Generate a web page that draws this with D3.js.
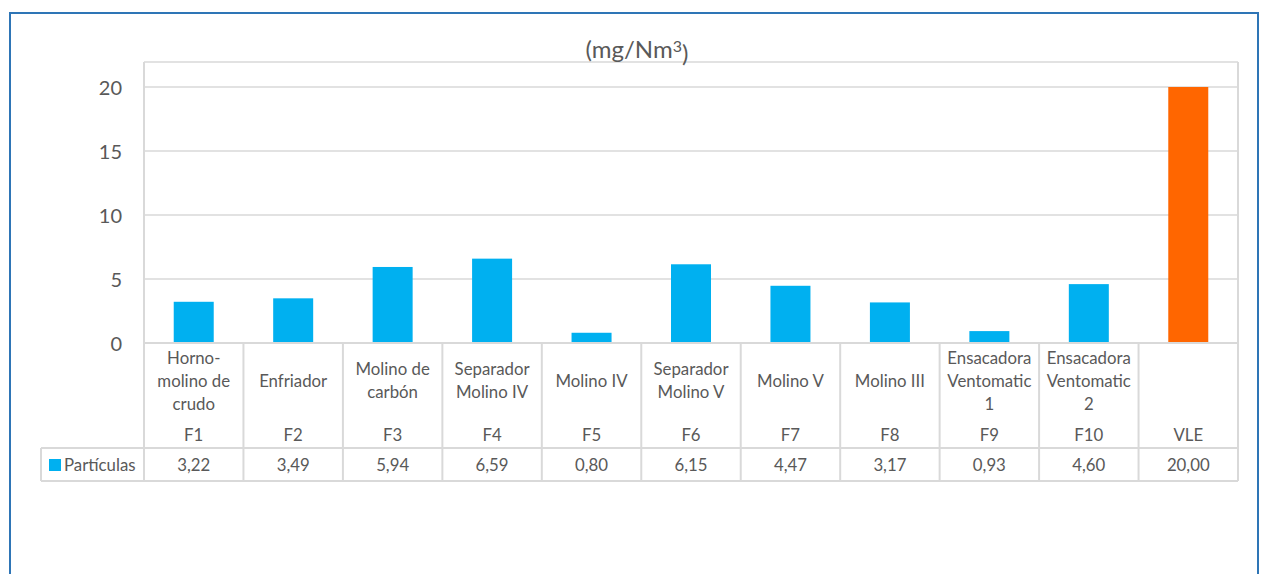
<!DOCTYPE html>
<html><head><meta charset="utf-8">
<script src="https://cdn.jsdelivr.net/npm/d3@7"></script>
<style>body{margin:0;background:#fff}svg{display:block}text{font-family:Lato,"Noto Sans",sans-serif;fill:#595959}</style>
</head><body><svg id="c" width="1261" height="574"></svg>
<script>
const codes = ["F1","F2","F3","F4","F5","F6","F7","F8","F9","F10","VLE"];
const names = [["Horno-","molino de","crudo"],["Enfriador"],["Molino de","carbón"],["Separador","Molino IV"],["Molino IV"],["Separador","Molino V"],["Molino V"],["Molino III"],["Ensacadora","Ventomatic","1"],["Ensacadora","Ventomatic","2"],[]];
const values = [3.22,3.49,5.94,6.59,0.80,6.15,4.47,3.17,0.93,4.60,20.00];
const yTicks = [0,5,10,15,20];
const seriesName = "Partículas";

const svg = d3.select("#c");
const L=144, R=1238, T=62, B=343, rowY=448, rowB=481, tblL=41;
const grid="#d9d9d9";
const blue="#00B0F0", orange="#FF6600";
const fs="16.8px";

svg.append("rect").attr("x",10).attr("y",13).attr("width",1248).attr("height",600)
  .attr("fill","none").attr("stroke","#2E75B6").attr("stroke-width",2);

const x = d3.scaleBand().domain(codes).range([L,R]).paddingInner(0).paddingOuter(0);
const y = d3.scaleLinear().domain([0,20]).range([B,87]);

svg.append("g").selectAll("line").data(yTicks).join("line")
  .attr("x1",L).attr("x2",R).attr("y1",d=>y(d)).attr("y2",d=>y(d))
  .attr("stroke",grid).attr("stroke-width",1.5);
svg.append("line").attr("x1",L).attr("x2",R).attr("y1",T).attr("y2",T).attr("stroke",grid).attr("stroke-width",1.5);

const ya = svg.append("g").attr("transform",`translate(${L-22},0)`)
  .call(d3.axisLeft(y).tickValues(yTicks).tickSize(0).tickPadding(0));
ya.select(".domain").remove();
ya.selectAll("text").style("font-size","20px").style("fill","#595959").style("font-family","Lato,sans-serif").attr("dy","0.35em");

const bw = 40;
svg.append("g").selectAll("rect").data(values).join("rect")
  .attr("x",(d,i)=>x(codes[i])+x.bandwidth()/2-bw/2)
  .attr("width",bw)
  .attr("y",d=>y(d)).attr("height",d=>y(0)-y(d))
  .attr("fill",(d,i)=>codes[i]==="VLE"?orange:blue);

const tl = svg.append("g").attr("stroke",grid).attr("stroke-width",2);
const bounds = codes.map(c=>x(c)).concat([R]);
bounds.forEach((bx,i)=>{
  tl.append("line").attr("x1",bx).attr("x2",bx).attr("y1",(i===0||i===codes.length)?T:B).attr("y2",rowB);
});
tl.append("line").attr("x1",tblL).attr("x2",R).attr("y1",rowY).attr("y2",rowY);
tl.append("line").attr("x1",tblL).attr("x2",R).attr("y1",rowB).attr("y2",rowB);
tl.append("line").attr("x1",tblL).attr("x2",tblL).attr("y1",rowY).attr("y2",rowB);
svg.append("line").attr("x1",L).attr("x2",R).attr("y1",B).attr("y2",B).attr("stroke",grid).attr("stroke-width",2);

const cg = svg.append("g");
codes.forEach((c,i)=>{
  const cx = x(c)+x.bandwidth()/2;
  const lines = names[i];
  const lh=23, mid=381;
  lines.forEach((t,k)=>{
    cg.append("text").attr("x",cx).attr("y",mid+(k-(lines.length-1)/2)*lh).attr("dy","0.35em")
      .attr("text-anchor","middle").style("font-size",fs).text(t);
  });
  cg.append("text").attr("x",cx).attr("y",435).attr("dy","0.35em").attr("text-anchor","middle")
    .style("font-size",fs).text(c);
  cg.append("text").attr("x",cx).attr("y",465).attr("dy","0.35em").attr("text-anchor","middle")
    .style("font-size",fs).text(values[i].toFixed(2).replace(".",","));
});
svg.append("rect").attr("x",49).attr("y",459).attr("width",12).attr("height",12).attr("fill",blue);
svg.append("text").attr("x",64).attr("y",465).attr("dy","0.35em").style("font-size",fs).text(seriesName);

const tt = svg.append("text").attr("x",637).attr("y",50).attr("dy","0.35em").attr("text-anchor","middle").style("font-size","24px");
tt.append("tspan").text("(mg/Nm");
tt.append("tspan").attr("dy","-0.4em").style("font-size","16px").text("3");
tt.append("tspan").attr("dy","0.4em").text(")");
</script></body></html>
